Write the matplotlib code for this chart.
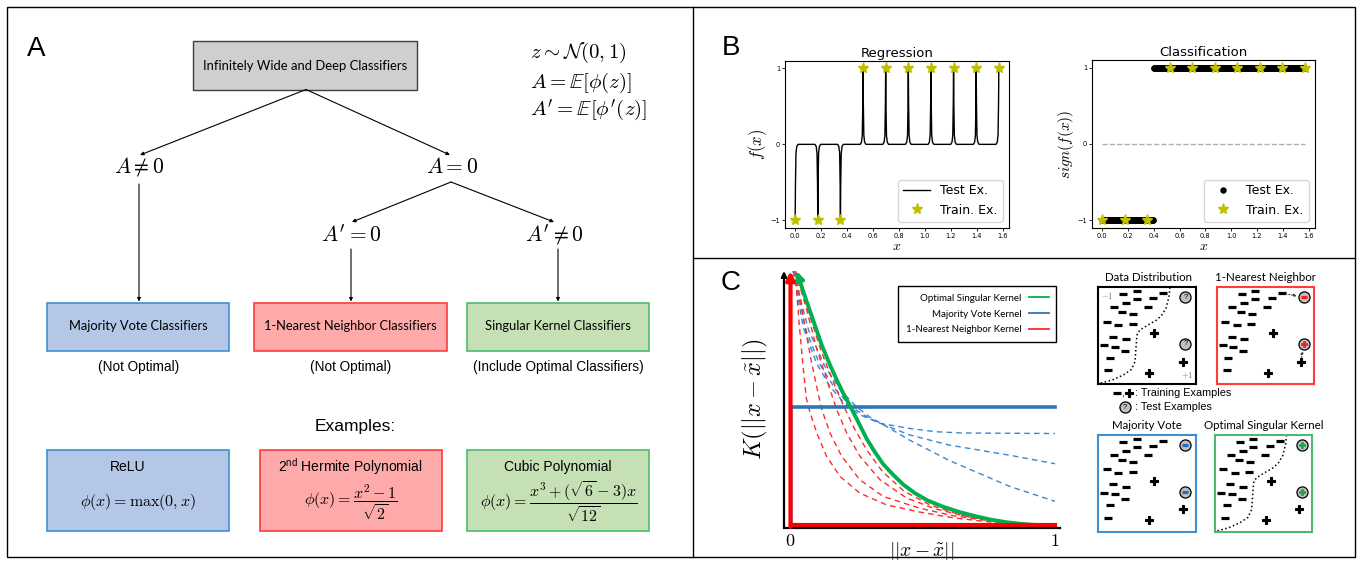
import numpy as np
import matplotlib
matplotlib.use('Agg')
import matplotlib.pyplot as plt
from matplotlib.patches import Rectangle
from matplotlib.lines import Line2D

plt.rcParams['mathtext.fontset'] = 'cm'
plt.rcParams['mathtext.rm'] = 'Liberation Sans'
plt.rcParams['mathtext.it'] = 'Liberation Sans:italic'
plt.rcParams['mathtext.bf'] = 'Liberation Sans:bold'

# ---------------- data ----------------
# Panel B
train_x = [0.0, 0.1745, 0.3491, 0.5236, 0.6981, 0.8727, 1.0472, 1.2217, 1.3963, 1.5708]
train_y = [-1, -1, -1, 1, 1, 1, 1, 1, 1, 1]
spike_dx = [-0.022, -0.012, -0.006, -0.002, 0.0, 0.002, 0.006, 0.012, 0.022]
spike_frac = [0, 0.03, 0.12, 0.55, 1.0, 0.55, 0.12, 0.03, 0]
class_boundary = 0.40
b_xticks = [0.0, 0.2, 0.4, 0.6, 0.8, 1.0, 1.2, 1.4, 1.6]
b_yticks = [-1, 0, 1]

# Panel C kernels
green_x = [0.025, 0.05, 0.08, 0.12, 0.15, 0.176, 0.20, 0.229, 0.26, 0.289, 0.32, 0.352, 0.39, 0.428,
           0.47, 0.52, 0.58, 0.64, 0.70, 0.76, 0.82, 0.88, 0.94, 1.0]
green_y = [1.0, 0.92, 0.83, 0.71, 0.635, 0.576, 0.524, 0.468, 0.405, 0.345, 0.293, 0.245, 0.203, 0.165,
           0.133, 0.103, 0.078, 0.058, 0.042, 0.028, 0.018, 0.011, 0.007, 0.004]
majority_level = 0.468
blue_dashed = [
    ([0.012, 0.05, 0.10, 0.15, 0.20, 0.26, 0.34, 0.45, 0.55, 0.65, 1.0],
     [1.0, 0.78, 0.64, 0.55, 0.49, 0.44, 0.405, 0.385, 0.372, 0.367, 0.365]),
    ([0.012, 0.06, 0.11, 0.17, 0.23, 0.29, 0.34, 0.45, 0.60, 0.83, 1.0],
     [1.0, 0.77, 0.64, 0.54, 0.47, 0.43, 0.405, 0.36, 0.32, 0.28, 0.247]),
    ([0.012, 0.07, 0.13, 0.19, 0.25, 0.30, 0.36, 0.45, 0.60, 0.83, 1.0],
     [1.0, 0.77, 0.63, 0.535, 0.47, 0.43, 0.395, 0.34, 0.26, 0.158, 0.10]),
]
red_dashed = [
    ([0.019, 0.035, 0.05, 0.062, 0.075, 0.101, 0.138, 0.189, 0.264, 0.365, 0.49, 0.62, 0.75, 0.88, 1.0],
     [1.0, 0.79, 0.62, 0.50, 0.45, 0.367, 0.276, 0.197, 0.132, 0.086, 0.058, 0.035, 0.02, 0.01, 0.005]),
    ([0.02, 0.05, 0.08, 0.103, 0.12, 0.151, 0.195, 0.264, 0.352, 0.49, 0.62, 0.75, 0.88, 1.0],
     [1.0, 0.82, 0.65, 0.537, 0.459, 0.367, 0.276, 0.184, 0.119, 0.073, 0.043, 0.024, 0.012, 0.006]),
    ([0.02, 0.06, 0.10, 0.151, 0.176, 0.214, 0.264, 0.34, 0.44, 0.55, 0.68, 0.82, 1.0],
     [1.0, 0.86, 0.70, 0.537, 0.459, 0.367, 0.276, 0.184, 0.113, 0.07, 0.038, 0.018, 0.007]),
    ([0.02, 0.07, 0.12, 0.17, 0.20, 0.24, 0.29, 0.35, 0.43, 0.53, 0.65, 0.80, 1.0],
     [1.0, 0.84, 0.68, 0.55, 0.478, 0.39, 0.30, 0.215, 0.14, 0.085, 0.045, 0.018, 0.006]),
]
kernel_labels = ["Optimal Singular Kernel", "Majority Vote Kernel", "1-Nearest Neighbor Kernel"]

# Panel C schematic data (box-relative coordinates)
neg_u = [0.257, 0.394, 0.565, 0.394, 0.668, 0.161, 0.284, 0.514, 0.247, 0.360, 0.086, 0.205, 0.353,
         0.154, 0.284, 0.062, 0.171, 0.274, 0.120, 0.103]
neg_v = [0.928, 0.962, 0.886, 0.879, 0.940, 0.797, 0.834, 0.793, 0.745, 0.724, 0.645, 0.607, 0.617,
         0.490, 0.466, 0.403, 0.386, 0.341, 0.272, 0.145]
pos_u = [0.575, 0.866, 0.524]
pos_v = [0.524, 0.231, 0.117]
test_u = [0.894, 0.894]
test_v = [0.897, 0.414]
bound_u = [0.736, 0.725, 0.695, 0.650, 0.599, 0.510, 0.428, 0.400, 0.394, 0.385, 0.377, 0.340, 0.257, 0.140, 0.017]
bound_v = [1.0, 0.90, 0.783, 0.710, 0.662, 0.610, 0.559, 0.520, 0.472, 0.350, 0.231, 0.150, 0.093, 0.040, 0.007]

# ---------------- figure ----------------
W, H = 1361, 563
fig = plt.figure(figsize=(W / 100, H / 100), dpi=100)
bg = fig.add_axes([0, 0, 1, 1])
bg.set_xlim(0, W)
bg.set_ylim(H, 0)
bg.axis('off')


def fax(x0, y0, x1, y1):
    return fig.add_axes([x0 / W, 1 - y1 / H, (x1 - x0) / W, (y1 - y0) / H])


CAL = 'Lato'
ARI = 'Liberation Sans'

# frame
bg.add_patch(Rectangle((7, 7), 1348, 550, fill=False, lw=1, ec='black'))
bg.plot([693, 693], [7, 557], color='black', lw=1)
bg.plot([693, 1355], [258, 258], color='black', lw=1)

# panel labels
for lab, (px, py) in zip(["A", "B", "C"], [(36.5, 48.5), (731, 48), (731, 283)]):
    bg.text(px, py, lab, fontsize=20, family=ARI, ha='center', va='center')

# ---------------- Panel A ----------------
bg.add_patch(Rectangle((193.5, 41), 224, 48.5, fc='#d0cece', ec='#404040', lw=1))
bg.text(305, 65.5, "Infinitely Wide and Deep Classifiers", family=CAL, fontsize=9.4,
        ha='center', va='center')

arrow_kw = dict(arrowstyle='-|>', color='black', lw=0.8, mutation_scale=5, shrinkA=0, shrinkB=0)
tree_edges = [((306, 89.5), (140, 155)), ((306, 89.5), (450, 155)),
              ((451, 182), (352, 222)), ((451, 182), (554, 222)),
              ((139, 184), (139, 301.5)), ((351, 249), (351, 301.5)), ((558, 249), (558, 301.5))]
for s, e in tree_edges:
    bg.annotate('', xy=e, xytext=s, arrowprops=arrow_kw)

node_texts = [(r"$A \neq 0$", 139, 167), (r"$A = 0$", 452, 167),
              (r"$A' = 0$", 351, 235), (r"$A' \neq 0$", 554, 235)]
for t, x, y in node_texts:
    bg.text(x, y, t, fontsize=15.5, ha='center', va='center')

defs = [r"$z \sim \mathcal{N}(0,1)$", r"$A = \mathbb{E}[\phi(z)]$", r"$A' = \mathbb{E}[\phi'(z)]$"]
for t, y in zip(defs, [53, 83, 110]):
    bg.text(530, y, t, fontsize=15, ha='left', va='center')

fills = ['#b4c7e7', '#ffaaaa', '#c5e0b4']
edges = ['#3f8fd2', '#ff3b3b', '#4cbb6c']
class_names = ["Majority Vote Classifiers", "1-Nearest Neighbor Classifiers", "Singular Kernel Classifiers"]
class_notes = ["(Not Optimal)", "(Not Optimal)", "(Include Optimal Classifiers)"]
cbox_x = [(47.5, 229), (254, 447), (467, 649)]
for (x0, x1), fc, ec, nm, note in zip(cbox_x, fills, edges, class_names, class_notes):
    bg.add_patch(Rectangle((x0, 302.5), x1 - x0, 48.5, fc=fc, ec=ec, lw=1.2))
    bg.text((x0 + x1) / 2, 326.5, nm, family=CAL, fontsize=9.3, ha='center', va='center')
    bg.text((x0 + x1) / 2, 367, note, family=ARI, fontsize=9.8, ha='center', va='center')

bg.text(355.5, 427, "Examples:", family=ARI, fontsize=12.5, ha='center', va='center')

ex_names = ["ReLU", r"$2^{\mathrm{nd}}$ Hermite Polynomial", "Cubic Polynomial"]
ex_forms = [r"$\phi(x) = \max(0, x)$", r"$\phi(x) = \dfrac{x^2 - 1}{\sqrt{2}}$",
            r"$\phi(x) = \dfrac{x^3 + (\sqrt{6} - 3)x}{\sqrt{12}}$"]
ebox_x = [(47.5, 229), (260, 442), (467.5, 649)]
name_x = [128, 350, 558]
for i, ((x0, x1), fc, ec) in enumerate(zip(ebox_x, fills, edges)):
    bg.add_patch(Rectangle((x0, 449.5), x1 - x0, 81, fc=fc, ec=ec, lw=1.2))
    if i == 1:
        bg.text(name_x[i], 467, ex_names[i], family=ARI, fontsize=10, ha='center', va='center',
                math_fontfamily='custom')
    else:
        bg.text(name_x[i], 467, ex_names[i], family=ARI, fontsize=10, ha='center', va='center')
    bg.text((x0 + x1) / 2, 502, ex_forms[i], fontsize=11.5, ha='center', va='center')

# ---------------- Panel B ----------------
reg_x, reg_y = [], []
for xi, yi in zip(train_x, train_y):
    for dx, fr in zip(spike_dx, spike_frac):
        xx = xi + dx
        if 0.0 <= xx <= 1.5708:
            reg_x.append(xx)
            reg_y.append(yi * fr)

axR = fax(785, 60.7, 1009, 228)
axR.plot(reg_x, reg_y, color='black', lw=1, label='Test Ex.')
axR.plot(train_x, train_y, ls='none', marker='*', color='y', ms=8, label='Train. Ex.', zorder=3)
axR.set_title("Regression", fontsize=9.5, pad=3)
axR.set_ylabel(r"$f(x)$", fontsize=12, labelpad=1)
axR.legend(loc='lower right', fontsize=9, handlelength=2.2)

class_x = np.linspace(0.0, 1.5708, 400)
class_y = np.where(class_x < class_boundary, -1, 1)
axK = fax(1092, 60, 1315, 228)
axK.plot([0, 1.5708], [0, 0], ls='--', color='#b0b0b0', lw=1)
axK.plot(class_x, class_y, ls='none', marker='o', color='black', ms=3.6, label='Test Ex.')
axK.plot(train_x, train_y, ls='none', marker='*', color='y', ms=8, label='Train. Ex.', zorder=3)
axK.set_title("Classification", fontsize=9.5, pad=3)
axK.set_ylabel(r"$sign(f(x))$", fontsize=11, labelpad=1)
axK.legend(loc='lower right', fontsize=9, handlelength=2.2)

for ax in (axR, axK):
    ax.set_xticks(b_xticks)
    ax.set_yticks(b_yticks)
    ax.tick_params(labelsize=4.8, length=2, width=0.6, pad=1.5)
    ax.set_xlabel(r"$x$", fontsize=10, labelpad=0)
    for sp in ax.spines.values():
        sp.set_linewidth(0.8)

# ---------------- Panel C kernel plot ----------------
axC = fax(784, 271, 1060, 527.7)
axC.set_xlim(-0.0226, 1.0189)
axC.set_ylim(-0.003, 1.0)
for sp in ('top', 'right', 'left'):
    axC.spines[sp].set_visible(False)
axC.spines['bottom'].set_linewidth(1.6)
axC.annotate('', xy=(-0.0226, 1.0), xytext=(-0.0226, -0.003), xycoords='data',
             arrowprops=dict(arrowstyle='-|>', color='black', lw=1.6, mutation_scale=8,
                             shrinkA=0, shrinkB=0), annotation_clip=False)

for bx, by in blue_dashed:
    axC.plot(bx, by, color='#3a86d0', lw=1.0, dashes=(4, 3))
for rx, ry in red_dashed:
    axC.plot(rx, ry, color='#ff2b2b', lw=1.0, dashes=(4, 3))
axC.plot([0.006, 0.006], [0, majority_level], color='#7fb2e5', lw=1.5)
axC.plot([0.006, 1.0], [majority_level, majority_level], color='#2e75b6', lw=2.6)
axC.plot(green_x[1:], green_y[1:], color='#00b050', lw=2.8, solid_capstyle='round',
         solid_joinstyle='round')
axC.annotate('', xy=(green_x[0], green_y[0]), xytext=(green_x[1], green_y[1]),
             arrowprops=dict(arrowstyle='-|>', color='#00b050', lw=2.8, mutation_scale=12,
                             shrinkA=0, shrinkB=0), annotation_clip=False)
axC.plot([0.002, 1.0], [0.008, 0.008], color='#ff0000', lw=3)
axC.annotate('', xy=(0.002, 1.0), xytext=(0.002, 0.0),
             arrowprops=dict(arrowstyle='-|>', color='#ff0000', lw=3, mutation_scale=12,
                             shrinkA=0, shrinkB=0), annotation_clip=False)

axC.set_xticks([0, 1])
axC.set_xticklabels([r"$0$", r"$1$"])
axC.set_yticks([])
axC.tick_params(axis='x', length=0, labelsize=13, pad=3)
axC.set_xlabel(r"$||x - \tilde{x}||$", fontsize=14, labelpad=-7)
axC.set_ylabel(r"$K(||x - \tilde{x}||)$", fontsize=17.5, labelpad=10)

k_handles = [Line2D([], [], color='#00b050', lw=1.3),
             Line2D([], [], color='#2e75b6', lw=1.3),
             Line2D([], [], color='#ff2b2b', lw=1.3)]
legC = axC.legend(k_handles, kernel_labels, loc='upper left', bbox_to_anchor=(898 / W, 1 - 286 / H),
                  bbox_transform=fig.transFigure, borderaxespad=0, markerfirst=False,
                  prop={'family': CAL, 'size': 7}, fancybox=False, edgecolor='black',
                  framealpha=1, handlelength=2, labelspacing=0.7, borderpad=0.8)
legC.get_frame().set_linewidth(1)

PLUS = dict(marker='P', ms=5.5, mew=0.8)


# ---------------- Panel C schematics ----------------
def schematic(x0, y0, x1, y1, edge, title, title_x, title_y, sym=None, sym_color=None,
              boundary=False, corner=False, nn_arrows=False):
    ax = fax(x0, y0, x1, y1)
    ax.set_xlim(0, 1)
    ax.set_ylim(0, 1)
    ax.set_xticks([])
    ax.set_yticks([])
    for sp in ax.spines.values():
        sp.set_color(edge)
        sp.set_linewidth(1.5)
    ax.plot(neg_u, neg_v, ls='none', marker='_', ms=6, mew=2.3, color='black')
    ax.plot(pos_u, pos_v, ls='none', color='black', mec='black', **PLUS)
    if boundary:
        ax.plot(bound_u, bound_v, ls=':', color='black', lw=1.1)
    ax.plot(test_u, test_v, ls='none', marker='o', ms=8, mfc='#c0c0c0', mec='black', mew=0.9)
    for u, v, s in zip(test_u, test_v, sym):
        if s == '?':
            ax.text(u, v, '?', fontsize=5.5, ha='center', va='center', family=ARI)
        elif s == '-':
            ax.plot([u], [v], marker='_', ms=5, mew=2.3, color=sym_color)
        else:
            ax.plot([u], [v], marker='P', ms=5, mew=0.6, color=sym_color, mec=sym_color)
    if corner:
        ax.text(0.03, 0.965, r"$-1$", fontsize=6, color='#707070', ha='left', va='top')
        ax.text(0.97, 0.03, r"$+1$", fontsize=6, color='#707070', ha='right', va='bottom')
    if nn_arrows:
        akw = dict(arrowstyle='-|>', color='#404040', lw=0.8, ls=':', mutation_scale=4,
                   shrinkA=3, shrinkB=5)
        ax.annotate('', xy=(test_u[0], test_v[0]), xytext=(neg_u[4], neg_v[4]), arrowprops=akw)
        ax.annotate('', xy=(test_u[1], test_v[1]), xytext=(pos_u[1], pos_v[1]), arrowprops=akw)
    bg.text(title_x, title_y, title, family=CAL, fontsize=8.3, ha='center', va='center')
    return ax


schematic(1098.3, 287.3, 1195.7, 384, 'black', "Data Distribution", 1148.3, 277.5,
          sym=['?', '?'], boundary=True, corner=True)
schematic(1216.7, 287.3, 1314, 384, '#ff3b3b', "1-Nearest Neighbor", 1265, 277.5,
          sym=['-', '+'], sym_color='#ff1a1a', nn_arrows=True)
schematic(1098.3, 435, 1195.7, 531.7, '#3f8fd2', "Majority Vote", 1146.7, 425.5,
          sym=['-', '-'], sym_color='#1f6fc5')
schematic(1215, 435, 1312.3, 531.7, '#4cbb6c', "Optimal Singular Kernel", 1264.2, 425.5,
          sym=['+', '+'], sym_color='#1aa84a', boundary=True)

# key below the top schematics
bg.plot([1116.7], [392.7], marker='_', ms=6, mew=2.3, color='black')
bg.text(1122.5, 394, ',', fontsize=7, ha='center', va='center', family=ARI)
bg.plot([1129], [392.7], color='black', mec='black', **PLUS)
bg.text(1135, 393, ": Training Examples", family=ARI, fontsize=7.8, ha='left', va='center')
bg.plot([1125], [407.3], marker='o', ms=8, mfc='#c0c0c0', mec='black', mew=0.9)
bg.text(1125, 407.5, '?', fontsize=5.5, ha='center', va='center', family=ARI)
bg.text(1135, 407.5, ": Test Examples", family=ARI, fontsize=7.8, ha='left', va='center')

fig.savefig('out.png', dpi=100)
